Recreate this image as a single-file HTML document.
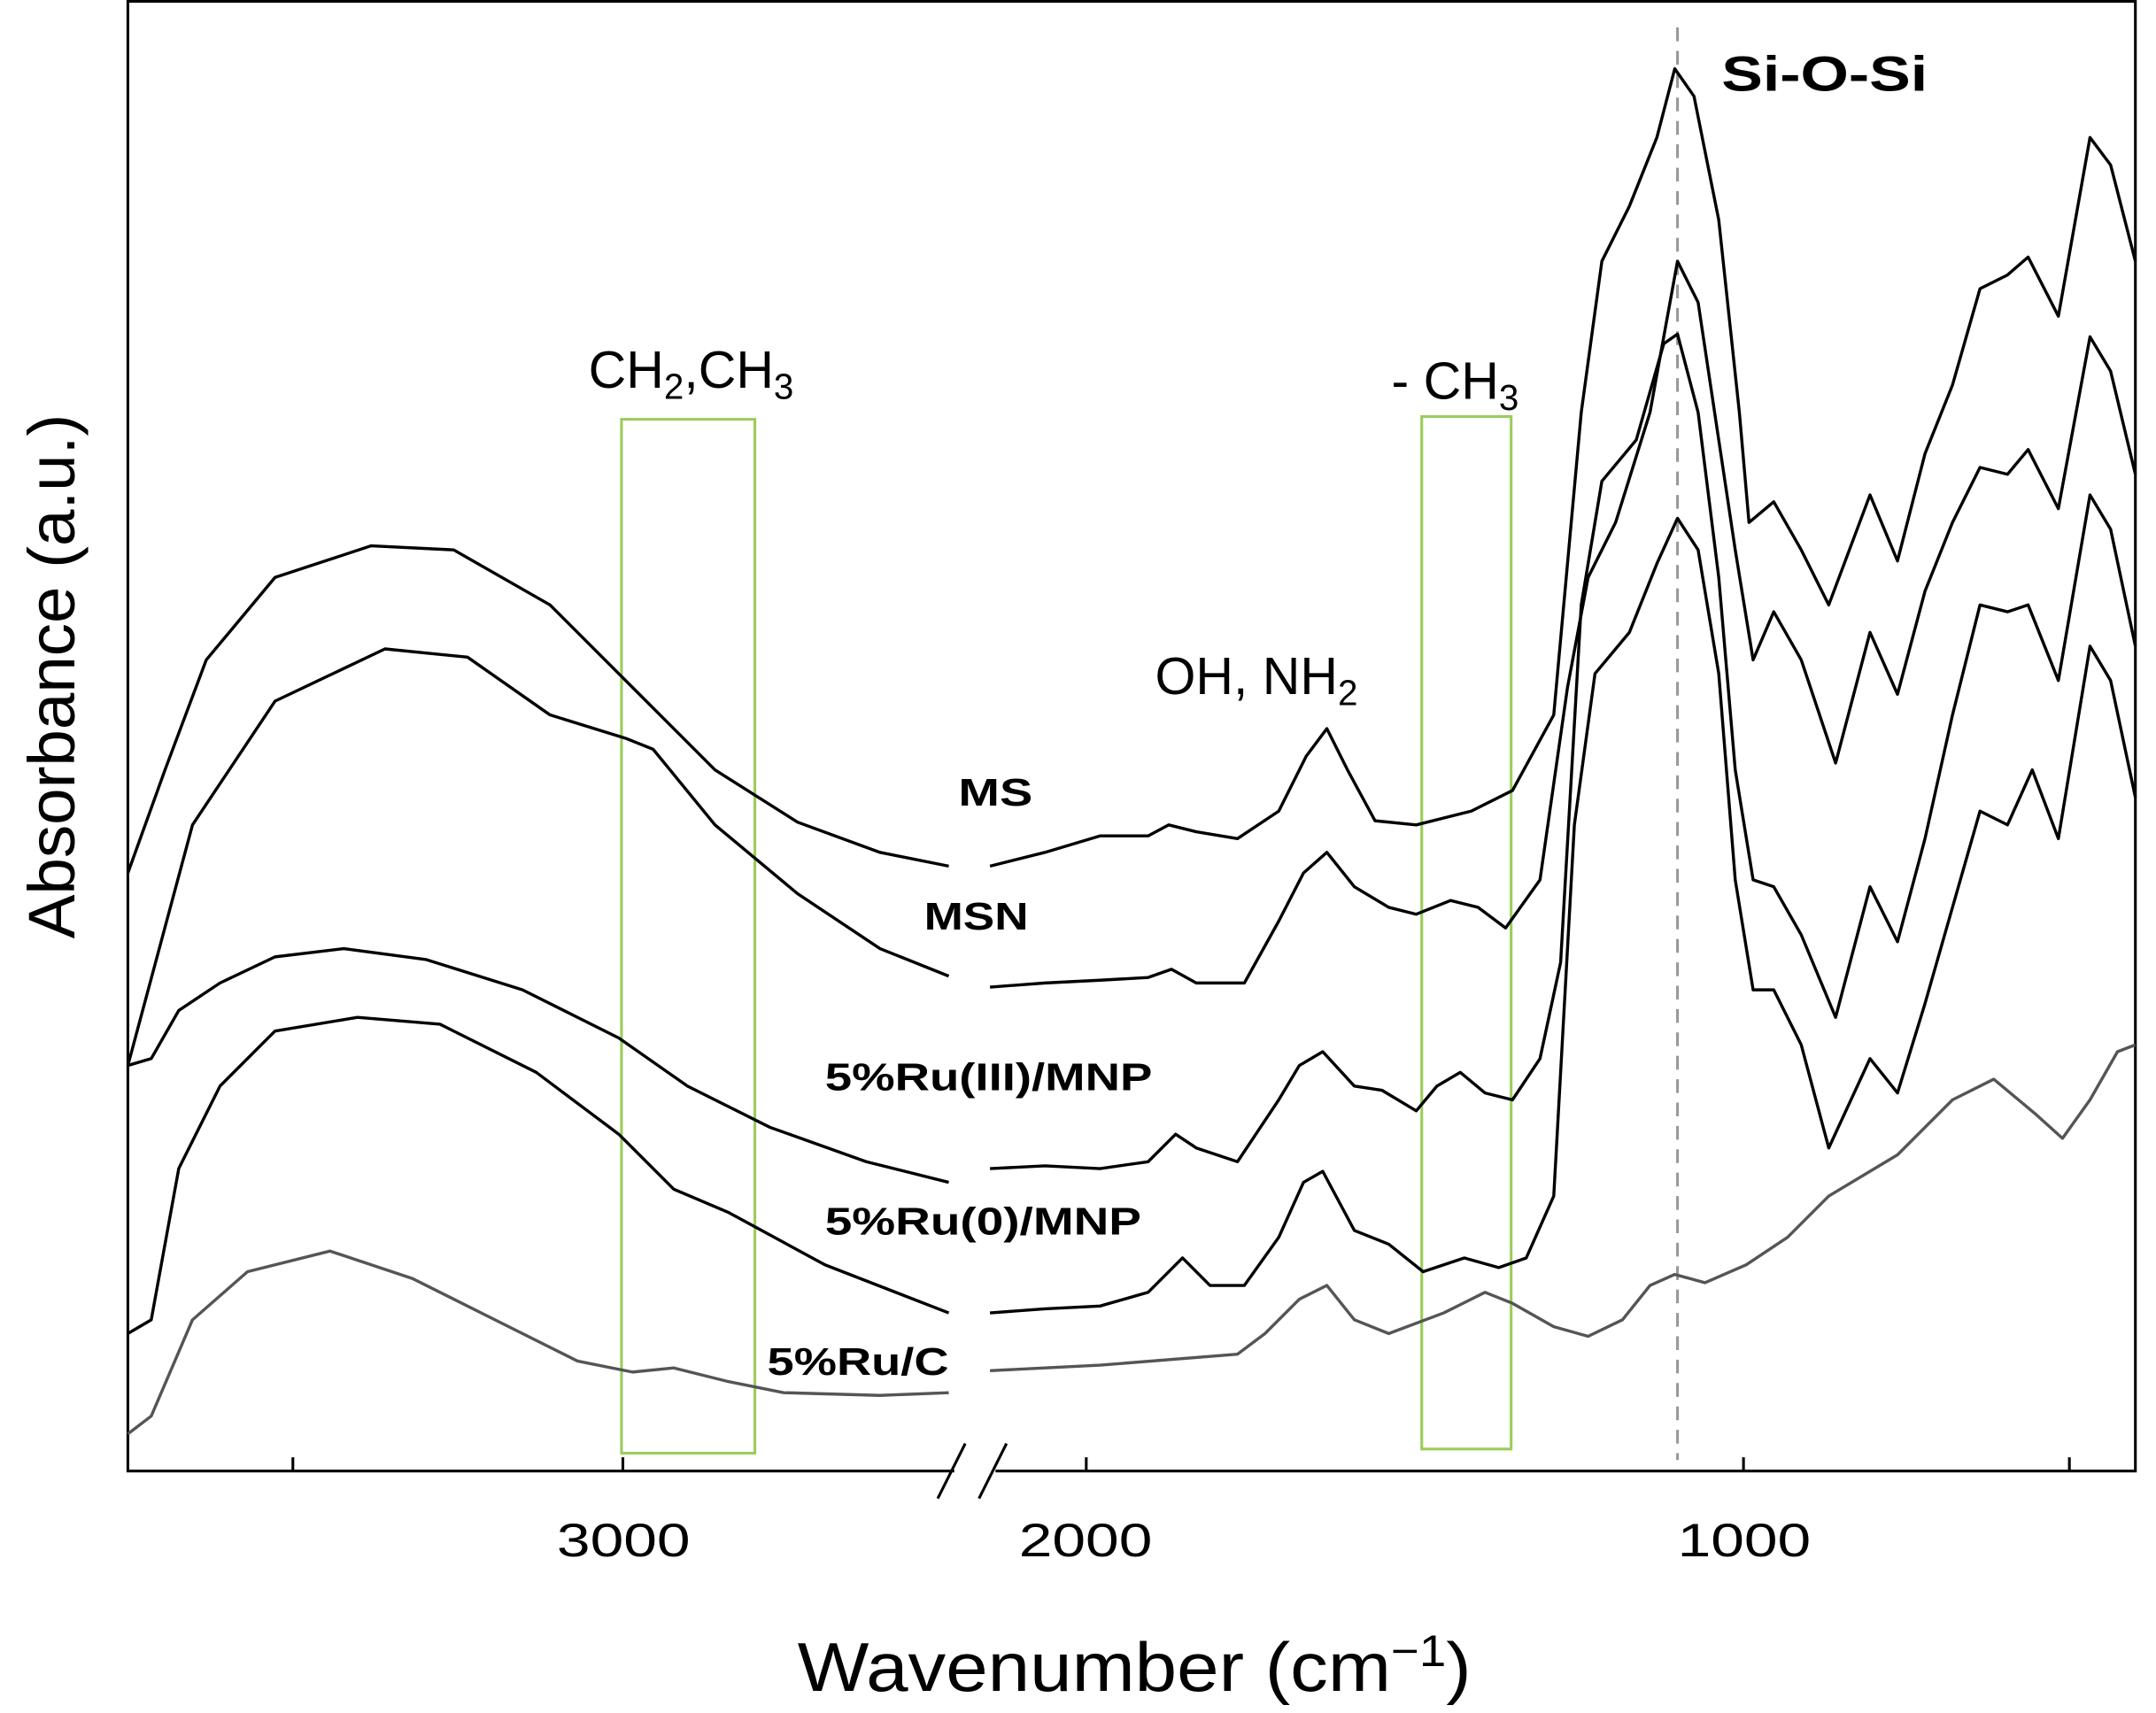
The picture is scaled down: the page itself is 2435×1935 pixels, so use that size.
<!DOCTYPE html>
<html><head><meta charset="utf-8"><style>html,body{margin:0;padding:0;background:#fff}svg{display:block}</style></head>
<body>
<svg id="s" width="2435" height="1935" viewBox="0 0 1568 1246" preserveAspectRatio="none" xmlns="http://www.w3.org/2000/svg" font-family="Liberation Sans, sans-serif">
<rect x="93" y="1" width="1460" height="1069" fill="none" stroke="#000" stroke-width="2"/>
<g stroke="#000" stroke-width="2">
<line x1="213" y1="1070" x2="213" y2="1060"/><line x1="453" y1="1070" x2="453" y2="1060"/><line x1="790" y1="1070" x2="790" y2="1060"/><line x1="1268" y1="1070" x2="1268" y2="1060"/><line x1="1505" y1="1070" x2="1505" y2="1060"/>
</g>
<rect x="694" y="1062" width="30" height="14" fill="#fff"/>
<g stroke="#000" stroke-width="2"><line x1="682" y1="1090" x2="702" y2="1050"/><line x1="712" y1="1090" x2="732" y2="1050"/></g>
<g font-size="34" fill="#000" lengthAdjust="spacingAndGlyphs"><text x="405" y="1132" textLength="97" lengthAdjust="spacingAndGlyphs">3000</text><text x="741" y="1132" textLength="97" lengthAdjust="spacingAndGlyphs">2000</text><text x="1220" y="1132" textLength="97" lengthAdjust="spacingAndGlyphs">1000</text></g>
<text x="580" y="1230" font-size="50" textLength="490" lengthAdjust="spacingAndGlyphs">Wavenumber (cm<tspan font-size="32" dy="-18">−1</tspan><tspan dy="18">)</tspan></text>
<text transform="translate(54,492) rotate(-90)" font-size="48" text-anchor="middle">Absorbance (a.u.)</text>
<g fill="none" stroke="#9acd5a" stroke-width="2"><rect x="452" y="305" width="97" height="752"/><rect x="1034" y="303" width="65" height="751"/></g>
<line x1="1220" y1="20" x2="1220" y2="1062" stroke="#999" stroke-width="2" stroke-dasharray="10,7"/>
<g font-size="38" fill="#000">
<text x="428" y="282">CH<tspan font-size="26" dy="8">2</tspan><tspan dy="-8">,CH</tspan><tspan font-size="26" dy="8">3</tspan></text>
<text x="1012" y="290">- CH<tspan font-size="26" dy="8">3</tspan></text>
<text x="840" y="505">OH, NH<tspan font-size="26" dy="8">2</tspan></text>
<text x="1252" y="66" font-weight="bold" font-size="36" textLength="150" lengthAdjust="spacingAndGlyphs">Si-O-Si</text>
</g>
<g font-size="28" font-weight="bold">
<text x="697" y="586" textLength="54" lengthAdjust="spacingAndGlyphs">MS</text>
<text x="672" y="676" textLength="76" lengthAdjust="spacingAndGlyphs">MSN</text>
<text x="600" y="793" textLength="238" lengthAdjust="spacingAndGlyphs">5%Ru(III)/MNP</text>
<text x="600" y="898" textLength="230" lengthAdjust="spacingAndGlyphs">5%Ru(0)/MNP</text>
<text x="558" y="1000" textLength="132" lengthAdjust="spacingAndGlyphs">5%Ru/C</text>
</g>
<g id="curves" fill="none" stroke="#000" stroke-width="2.2" stroke-linejoin="round">
<polyline points="93,635 120,560 150,480 200,420 270,397 330,400 400,440 460,500 520,560 580,598 640,620 690,630"/>
<polyline points="720,630 760,620 800,608 835,608 850,600 870,605 900,610 930,590 950,550 965,530 980,560 1000,597 1030,600 1070,590 1100,575 1130,520 1150,300 1165,190 1185,150 1205,100 1218,50 1232,70 1250,160 1265,300 1272,380 1290,365 1310,400 1330,440 1345,400 1360,360 1380,408 1400,330 1420,280 1440,210 1460,200 1475,187 1497,230 1520,100 1535,120 1553,190"/>
<polyline points="93,775 140,600 200,510 280,472 340,478 400,520 455,537 475,545 520,600 580,650 640,690 690,710"/>
<polyline points="720,718 760,715 800,713 835,711 852,705 870,715 905,715 930,670 948,635 965,620 985,645 1010,660 1030,665 1055,655 1075,660 1095,675 1120,640 1140,500 1155,420 1175,380 1200,300 1220,190 1235,220 1250,320 1262,400 1275,480 1290,445 1310,480 1335,555 1360,460 1380,505 1400,430 1420,380 1440,340 1460,345 1475,327 1497,370 1520,245 1535,270 1553,345"/>
<polyline points="93,775 110,770 130,735 160,715 200,696 250,690 310,698 380,720 450,755 500,790 560,820 630,845 690,860"/>
<polyline points="720,850 760,848 800,850 835,845 855,825 870,835 900,845 930,800 945,775 962,765 985,790 1005,793 1030,808 1045,790 1062,780 1080,795 1100,800 1120,770 1135,700 1150,440 1165,350 1190,320 1210,250 1220,243 1235,300 1250,420 1262,560 1275,640 1290,645 1310,680 1335,740 1360,645 1380,685 1400,610 1420,520 1440,440 1460,445 1475,440 1497,495 1520,360 1535,385 1553,470"/>
<polyline points="93,970 110,960 130,850 160,790 200,750 260,740 320,745 390,780 450,825 490,865 530,882 600,920 690,955"/>
<polyline points="720,955 760,952 800,950 835,940 860,915 880,935 905,935 930,900 948,860 962,852 985,895 1010,905 1035,925 1065,915 1090,922 1110,915 1130,870 1145,600 1160,490 1185,460 1205,410 1220,377 1235,400 1250,490 1262,640 1275,720 1290,720 1310,760 1330,835 1360,770 1380,795 1400,730 1420,660 1440,590 1460,600 1478,560 1497,610 1520,470 1535,495 1553,580"/>
<polyline stroke="#555" points="93,1043 110,1030 140,960 180,925 240,910 300,930 360,960 420,990 460,998 490,995 530,1005 570,1013 640,1015 690,1013"/>
<polyline stroke="#555" points="720,997 800,993 900,985 920,970 945,945 965,935 985,960 1010,970 1050,955 1080,940 1100,948 1130,965 1155,972 1180,960 1200,935 1218,927 1240,933 1270,920 1300,900 1330,870 1380,840 1420,800 1450,785 1480,810 1500,828 1520,800 1540,765 1553,760"/>
</g>
<script>
(function(){
var ns="http://www.w3.org/2000/svg";
var pls=document.querySelectorAll("#curves polyline");
for(var k=0;k<pls.length;k++){
var pl=pls[k];
var p=pl.getAttribute("points").trim().split(/\s+/).map(function(s){var a=s.split(",");return[+a[0],+a[1]];});
var d="M"+p[0][0]+","+p[0][1];
for(var i=0;i<p.length-1;i++){
var p0=p[i>0?i-1:i],p1=p[i],p2=p[i+1],p3=p[i+2<p.length?i+2:i+1];
var t=1/6;
var c1x=p1[0]+(p2[0]-p0[0])*t,c1y=p1[1]+(p2[1]-p0[1])*t;
var c2x=p2[0]-(p3[0]-p1[0])*t,c2y=p2[1]-(p3[1]-p1[1])*t;
d+=" C"+c1x.toFixed(1)+","+c1y.toFixed(1)+" "+c2x.toFixed(1)+","+c2y.toFixed(1)+" "+p2[0]+","+p2[1];
}
var path=document.createElementNS(ns,"path");
path.setAttribute("d",d);
if(pl.getAttribute("stroke"))path.setAttribute("stroke",pl.getAttribute("stroke"));
pl.parentNode.replaceChild(path,pl);
}
})();
</script>
</svg>
</body></html>
